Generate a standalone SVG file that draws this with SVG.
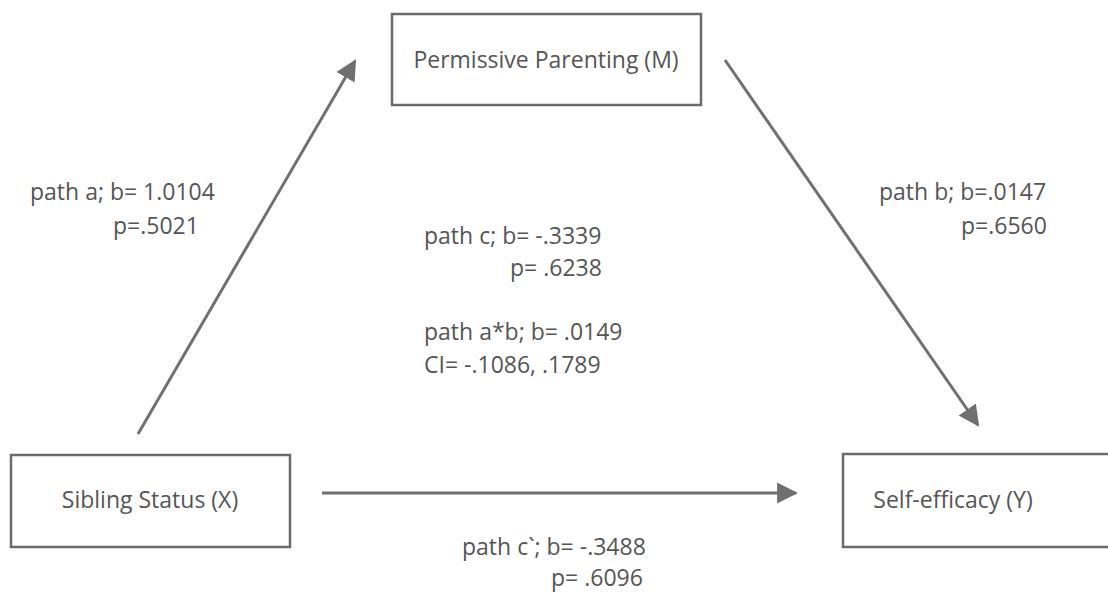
<svg xmlns="http://www.w3.org/2000/svg" width="1108" height="592" viewBox="0 0 1108 592">
<style>
.box{fill:#fff;stroke:#6b6b6b;stroke-width:2.5}
.t{font-family:"Open Sans","Noto Sans",sans-serif;font-size:23px;fill:#555}
.c{text-anchor:middle}
.ln{stroke:#707070;stroke-width:3;fill:none;marker-end:url(#ah)}
</style>
<defs>
<marker id="ah" viewBox="0 0 10 10" refX="9" refY="5" markerWidth="7" markerHeight="7.5" markerUnits="strokeWidth" orient="auto">
<path d="M0,0 L10,5 L0,10 z" fill="#707070"/>
</marker>
</defs>
<rect width="1108" height="592" fill="#fff"/>
<g id="connectors">
<line class="ln" x1="138" y1="434" x2="355" y2="61"/>
<line class="ln" x1="322" y1="493" x2="796" y2="493"/>
<line class="ln" x1="725" y1="60" x2="978" y2="425"/>
</g>
<g id="node-m">
<rect class="box" x="392" y="14" width="309" height="91"/>
<text class="t c" x="546" y="68">Permissive Parenting (M)</text>
</g>
<g id="node-x">
<rect class="box" x="11" y="455" width="279" height="92"/>
<text class="t c" x="150" y="508">Sibling Status (X)</text>
</g>
<g id="node-y">
<rect class="box" x="843" y="454" width="270" height="93"/>
<text class="t c" x="953" y="508">Self-efficacy (Y)</text>
</g>
<g id="labels">
<text class="t" x="30" y="200">path a; b= 1.0104</text>
<text class="t" x="113" y="234">p=.5021</text>
<text class="t" x="879" y="200">path b; b=.0147</text>
<text class="t" x="961" y="234">p=.6560</text>
<text class="t" x="424" y="244">path c; b= -.3339</text>
<text class="t" x="510" y="276">p= .6238</text>
<text class="t" x="424" y="340">path a*b; b= .0149</text>
<text class="t" x="424" y="373">CI= -.1086, .1789</text>
<text class="t" x="462" y="555">path c`; b= -.3488</text>
<text class="t" x="551" y="586">p= .6096</text>
</g>
</svg>
